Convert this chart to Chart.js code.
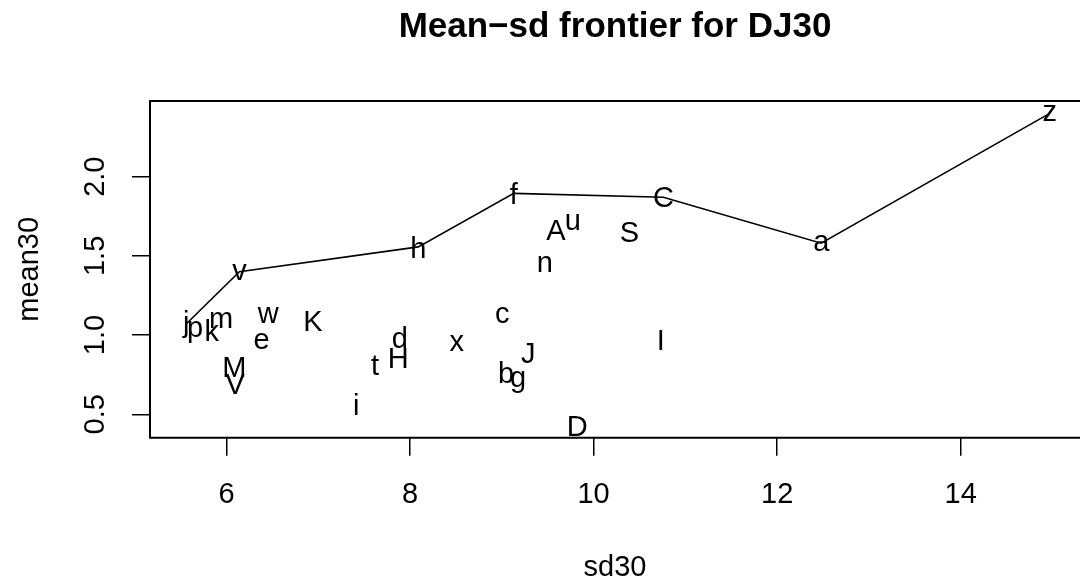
<!DOCTYPE html>
<html>
<head>
<meta charset="utf-8">
<script src="https://cdn.jsdelivr.net/npm/chart.js@4/dist/chart.umd.min.js"></script>
<style>
  html, body { margin: 0; padding: 0; background: #ffffff; overflow: hidden; }
  #wrap { width: 1080px; height: 584px; }
</style>
</head>
<body>
<div id="wrap"><canvas id="c" width="1080" height="584"></canvas></div>
<script>
// ---- data ----
const stockLabels = ['a','b','c','d','e','f','g','h','i','j','k','m','n','p','t','u','v','w','x','z','A','C','D','H','I','J','K','M','S','V'];
const sd30   = [12.48, 9.045, 9.005, 7.888, 6.383, 9.13, 9.176, 8.09, 7.414, 5.56, 5.84, 5.94, 9.468, 5.657, 7.618, 9.772, 6.14, 6.455, 8.508, 14.97, 9.59, 10.76, 9.82, 7.872, 10.733, 9.289, 6.942, 6.085, 10.39, 6.093];
const mean30 = [1.58, 0.764, 1.124, 0.987, 0.961, 1.895, 0.706, 1.557, 0.566, 1.07, 1.032, 1.095, 1.450, 1.022, 0.811, 1.716, 1.40, 1.129, 0.951, 2.40, 1.663, 1.87, 0.427, 0.855, 0.969, 0.888, 1.092, 0.797, 1.651, 0.690];
const frontierOrder = ['j','v','h','f','C','a','z'];
const xTicks = [6, 8, 10, 12, 14];
const yTicks = [0.5, 1.0, 1.5, 2.0];
const xRange = [5.166, 15.30];
const yRange = [0.352, 2.478];
const titleText = 'Mean\u2212sd frontier for DJ30';
const xTitle = 'sd30';
const yTitle = 'mean30';

// ---- build datasets from the arrays ----
const pointData = stockLabels.map((l, i) => ({ x: sd30[i], y: mean30[i], label: l }));
const frontierData = frontierOrder.map(l => {
  const i = stockLabels.indexOf(l);
  return { x: sd30[i], y: mean30[i] };
});

const FONT = '"Liberation Sans", Arial, Helvetica, sans-serif';

// frame around the plot region (its right side lies past the canvas edge in the reference)
const boxPlugin = {
  id: 'boxPlugin',
  afterDraw(chart) {
    const a = chart.chartArea, ctx = chart.ctx;
    ctx.save();
    ctx.strokeStyle = '#000';
    ctx.lineWidth = 2;
    ctx.beginPath();
    ctx.moveTo(a.right + 5, a.top);
    ctx.lineTo(a.left, a.top);
    ctx.lineTo(a.left, a.bottom);
    ctx.lineTo(a.right + 5, a.bottom);
    ctx.stroke();
    ctx.restore();
  }
};

const textPointsPlugin = {
  id: 'textPoints',
  afterDatasetsDraw(chart) {
    const meta = chart.getDatasetMeta(1);
    const ds = chart.data.datasets[1];
    const ctx = chart.ctx;
    ctx.save();
    ctx.font = '29px ' + FONT;
    ctx.fillStyle = '#000';
    ctx.textAlign = 'center';
    ctx.textBaseline = 'alphabetic';
    meta.data.forEach((el, i) => {
      const txt = ds.data[i].label;
      const m = ctx.measureText(txt);
      const off = (m.actualBoundingBoxAscent - m.actualBoundingBoxDescent) / 2;
      ctx.fillText(txt, el.x, el.y + off);
    });
    ctx.restore();
  }
};

new Chart(document.getElementById('c'), {
  type: 'scatter',
  data: {
    datasets: [
      {
        data: frontierData,
        showLine: true,
        borderColor: '#000',
        borderWidth: 1.6,
        pointRadius: 0,
        fill: false,
        tension: 0
      },
      {
        data: pointData,
        showLine: false,
        pointRadius: 0,
        pointHoverRadius: 0
      }
    ]
  },
  options: {
    responsive: false,
    animation: false,
    devicePixelRatio: 1,
    layout: { padding: 0 },
    plugins: {
      legend: { display: false },
      tooltip: { enabled: false },
      title: {
        display: true,
        fullSize: false,
        text: titleText,
        color: '#000',
        font: { family: FONT, size: 35, weight: 'bold', lineHeight: 1.2 },
        padding: { top: 6, bottom: 53 }
      }
    },
    scales: {
      x: {
        type: 'linear',
        min: xRange[0],
        max: xRange[1],
        afterBuildTicks: s => { s.ticks = xTicks.map(v => ({ value: v })); },
        afterFit: s => { s.height = 146.3; },
        grid: { drawOnChartArea: false, drawTicks: true, tickLength: 18, color: '#000', lineWidth: 1.5 },
        border: { display: false },
        ticks: {
          color: '#000',
          font: { family: FONT, size: 29, lineHeight: 1.2 },
          padding: 22,
          maxRotation: 0,
          minRotation: 0,
          autoSkip: false,
          callback: v => String(v)
        },
        title: {
          display: true,
          text: xTitle,
          color: '#000',
          font: { family: FONT, size: 29, lineHeight: 1.2 },
          padding: { top: 0, bottom: -1 }
        }
      },
      y: {
        type: 'linear',
        min: yRange[0],
        max: yRange[1],
        afterBuildTicks: s => { s.ticks = yTicks.map(v => ({ value: v })); },
        afterFit: s => { s.width = 150; },
        grid: { drawOnChartArea: false, drawTicks: true, tickLength: 18, color: '#000', lineWidth: 1.5 },
        border: { display: false },
        ticks: {
          color: '#000',
          font: { family: FONT, size: 29, lineHeight: 1.2 },
          padding: 16,
          minRotation: 90,
          maxRotation: 90,
          crossAlign: 'center',
          autoSkip: false,
          callback: v => Number(v).toFixed(1)
        },
        title: {
          display: true,
          text: yTitle,
          color: '#000',
          font: { family: FONT, size: 29, lineHeight: 1.2 },
          padding: { top: 13, bottom: 0 }
        }
      }
    }
  },
  plugins: [boxPlugin, textPointsPlugin]
});
</script>
</body>
</html>
